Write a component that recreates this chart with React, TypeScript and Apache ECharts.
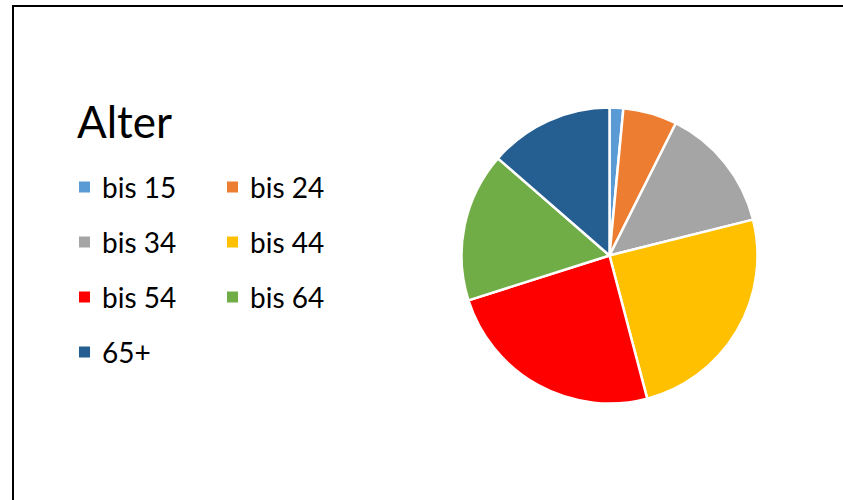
import React, { useEffect, useRef } from "react";
import * as echarts from "echarts";

const titleText = "Alter";
const categories = ["bis 15", "bis 24", "bis 34", "bis 44", "bis 54", "bis 64", "65+"];
const values = [1.5, 5.9, 13.7, 24.8, 24.2, 16.3, 13.6];
const colors = ["#5B9BD5", "#ED7D31", "#A5A5A5", "#FFC000", "#FF0000", "#70AD47", "#255E91"];

const FONT = "Lato, 'Open Sans', sans-serif";

export default function App() {
  const ref = useRef<HTMLDivElement>(null);
  useEffect(() => {
    if (!ref.current) return;
    const chart = echarts.init(ref.current, undefined, { renderer: "svg" });
    chart.setOption({
      animation: false,
      backgroundColor: "#ffffff",
      color: colors,
      title: {
        text: titleText,
        left: 77,
        top: 99,
        padding: 0,
        textStyle: { fontFamily: FONT, fontSize: 44, fontWeight: "normal", color: "#000000" },
      },
      legend: {
        orient: "horizontal",
        left: 77,
        top: 166,
        width: 310,
        padding: 0,
        itemWidth: 13,
        itemHeight: 13,
        itemGap: 13,
        icon: "rect",
        selectedMode: false,
        data: categories,
        textStyle: {
          fontFamily: FONT,
          fontSize: 28,
          color: "#000000",
          width: 110,
          lineHeight: 42,
          padding: [0, 0, 0, 6],
        },
      },
      graphic: [
        { type: "line", shape: { x1: 13, y1: 5, x2: 13, y2: 500 }, style: { stroke: "#000000", lineWidth: 2 } },
        { type: "line", shape: { x1: 12, y1: 6, x2: 843, y2: 6 }, style: { stroke: "#000000", lineWidth: 2 } },
      ],
      series: [
        {
          type: "pie",
          center: [609.5, 255.5],
          radius: 148,
          startAngle: 90,
          clockwise: true,
          label: { show: false },
          labelLine: { show: false },
          emphasis: { disabled: true },
          itemStyle: { borderColor: "#ffffff", borderWidth: 2.5 },
          data: categories.map((c, i) => ({ name: c, value: values[i] })),
        },
      ],
    });
    return () => chart.dispose();
  }, []);
  return (
    <div
      ref={ref}
      style={{ position: "absolute", left: 0, top: 0, width: 843, height: 500 }}
    />
  );
}
